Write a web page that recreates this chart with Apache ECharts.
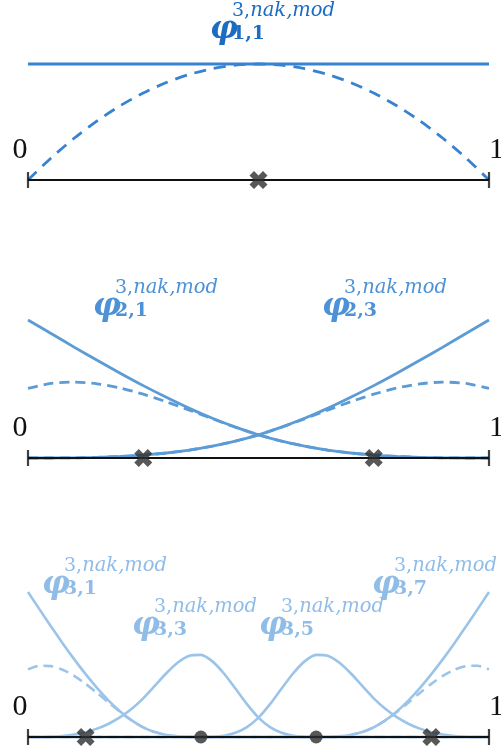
<!DOCTYPE html>
<html>
<head>
<meta charset="utf-8">
<script src="https://cdn.jsdelivr.net/npm/echarts@6/dist/echarts.min.js"></script>
<style>
  html, body { margin: 0; padding: 0; background: #ffffff; }
  #chart { width: 501px; height: 752px; }
</style>
</head>
<body>
<div id="chart"></div>
<script>
// Sample positions on [0, 1]
const xsCoarse = [0, 0.05, 0.1, 0.15, 0.2, 0.25, 0.3, 0.35, 0.4, 0.45, 0.5,
  0.55, 0.6, 0.65, 0.7, 0.75, 0.8, 0.85, 0.9, 0.95, 1];
const xsFine = [0, 0.025, 0.05, 0.075, 0.1, 0.125, 0.15, 0.175, 0.2, 0.225, 0.25,
  0.275, 0.3, 0.325, 0.35, 0.375, 0.4, 0.425, 0.45, 0.475, 0.5,
  0.525, 0.55, 0.575, 0.6, 0.625, 0.65, 0.675, 0.7, 0.725, 0.75,
  0.775, 0.8, 0.825, 0.85, 0.875, 0.9, 0.925, 0.95, 0.975, 1];

// Level 1
const phi11Mod = [1, 1, 1, 1, 1, 1, 1, 1, 1, 1, 1, 1, 1, 1, 1, 1, 1, 1, 1, 1, 1];
const phi11Nak = [0, 0.19, 0.36, 0.51, 0.64, 0.75, 0.84, 0.91, 0.96, 0.99, 1,
  0.99, 0.96, 0.91, 0.84, 0.75, 0.64, 0.51, 0.36, 0.19, 0];

// Level 2
const phi21Nak = [0.6, 0.6428, 0.6544, 0.6396, 0.6032, 0.55, 0.4848, 0.4124, 0.3376, 0.2652, 0.2,
  0.1458, 0.1024, 0.0686, 0.0432, 0.025, 0.0128, 0.0054, 0.0016, 0.0002, 0];
const phi21Mod = [1.19, 1.073, 0.956, 0.842, 0.731, 0.624, 0.523, 0.428, 0.342, 0.266, 0.2,
  0.1458, 0.1024, 0.0686, 0.0432, 0.025, 0.0128, 0.0054, 0.0016, 0.0002, 0];
const phi23Nak = [0, 0.0002, 0.0016, 0.0054, 0.0128, 0.025, 0.0432, 0.0686, 0.1024, 0.1458, 0.2,
  0.2652, 0.3376, 0.4124, 0.4848, 0.55, 0.6032, 0.6396, 0.6544, 0.6428, 0.6];
const phi23Mod = [0, 0.0002, 0.0016, 0.0054, 0.0128, 0.025, 0.0432, 0.0686, 0.1024, 0.1458, 0.2,
  0.266, 0.342, 0.428, 0.523, 0.624, 0.731, 0.842, 0.956, 1.073, 1.19];

// Level 3
const phi31Nak = [0.5833, 0.6143, 0.6113, 0.5803, 0.5273, 0.4583, 0.3793, 0.2963, 0.2153, 0.1423, 0.0833,
  0.0427, 0.018, 0.0053, 0.0007, 0, 0, 0, 0, 0, 0,
  0, 0, 0, 0, 0, 0, 0, 0, 0, 0,
  0, 0, 0, 0, 0, 0, 0, 0, 0, 0];
const phi31Mod = [1.25, 1.1003, 0.9526, 0.809, 0.6713, 0.5416, 0.422, 0.3143, 0.2206, 0.143, 0.0833,
  0.0427, 0.018, 0.0053, 0.0007, 0, 0, 0, 0, 0, 0,
  0, 0, 0, 0, 0, 0, 0, 0, 0, 0,
  0, 0, 0, 0, 0, 0, 0, 0, 0, 0];
const phi33 = [0, 0.0003, 0.0027, 0.009, 0.0213, 0.0417, 0.072, 0.1143, 0.1707, 0.243, 0.3333,
  0.4403, 0.5493, 0.6423, 0.7013, 0.7083, 0.652, 0.5477, 0.4173, 0.283, 0.1667,
  0.0853, 0.036, 0.0107, 0.0013, 0, 0, 0, 0, 0, 0,
  0, 0, 0, 0, 0, 0, 0, 0, 0, 0];
const phi35 = [0, 0, 0, 0, 0, 0, 0, 0, 0, 0, 0,
  0, 0, 0, 0, 0, 0.0013, 0.0107, 0.036, 0.0853, 0.1667,
  0.283, 0.4173, 0.5477, 0.652, 0.7083, 0.7013, 0.6423, 0.5493, 0.4403, 0.3333,
  0.243, 0.1707, 0.1143, 0.072, 0.0417, 0.0213, 0.009, 0.0027, 0.0003, 0];
const phi37Nak = [0, 0, 0, 0, 0, 0, 0, 0, 0, 0, 0,
  0, 0, 0, 0, 0, 0, 0, 0, 0, 0,
  0, 0, 0, 0, 0, 0.0007, 0.0053, 0.018, 0.0427, 0.0833,
  0.1423, 0.2153, 0.2963, 0.3793, 0.4583, 0.5273, 0.5803, 0.6113, 0.6143, 0.5833];
const phi37Mod = [0, 0, 0, 0, 0, 0, 0, 0, 0, 0, 0,
  0, 0, 0, 0, 0, 0, 0, 0, 0, 0,
  0, 0, 0, 0, 0, 0.0007, 0.0053, 0.018, 0.0427, 0.0833,
  0.143, 0.2206, 0.3143, 0.422, 0.5416, 0.6713, 0.809, 0.9526, 1.1003, 1.25];

// Grid points on each level: crosses = not-a-knot points, dots = knots
const crosses1 = [0.5];
const crosses2 = [0.25, 0.75];
const crosses3 = [0.125, 0.875];
const dots3 = [0.375, 0.625];

// Text
const tickLabels = ['0', '1'];
const supDegree = '3,';
const supKind = 'nak,mod';
const labels1 = ['1,1'];
const labels2 = ['2,1', '2,3'];
const labels3 = ['3,1', '3,3', '3,5', '3,7'];

const colors = ['#3783cf', '#5b9bd6', '#9cc4e9'];
const labelColors = ['#1c6cc2', '#4d92d6', '#90bde8'];
const dashes = [[12, 8], [10, 6], [10, 6]];

const axisY = [180, 458, 737];
const unitPx = 116;
const yMax = 1.5;

const zip = (xs, ys) => xs.map((x, i) => [x, ys[i]]);

const grids = axisY.map(y => ({
  left: 28, right: 12, top: y - unitPx * yMax, height: unitPx * yMax
}));
const xAxes = axisY.map((_, i) => ({ type: 'value', min: 0, max: 1, show: false, gridIndex: i }));
const yAxes = axisY.map((_, i) => ({ type: 'value', min: 0, max: yMax, show: false, gridIndex: i }));

const crossPath = 'path://M2.5,0 L5,2.5 L7.5,0 L10,2.5 L7.5,5 L10,7.5 L7.5,10 L5,7.5 L2.5,10 L0,7.5 L2.5,5 L0,2.5 Z';

function curve(g, xs, ys, color, width, dashed, z) {
  return {
    type: 'line', xAxisIndex: g, yAxisIndex: g, data: zip(xs, ys),
    showSymbol: false, smooth: 0.25, clip: false, silent: true, z: z,
    lineStyle: { color: color, width: width, type: dashed ? dashes[g] : 'solid', cap: 'butt' }
  };
}
function baseLine(g) {
  return [
    { type: 'line', xAxisIndex: g, yAxisIndex: g, data: [[0, 0], [1, 0]], showSymbol: false,
      clip: false, silent: true, z: 5, lineStyle: { color: '#111111', width: 1.8 } },
    { type: 'scatter', xAxisIndex: g, yAxisIndex: g, data: [[0, 0], [1, 0]], symbol: 'rect',
      symbolSize: [2.2, 16], clip: false, silent: true, z: 6, itemStyle: { color: '#111111' } }
  ];
}
function markers(g, pts, kind) {
  return {
    type: 'scatter', xAxisIndex: g, yAxisIndex: g, data: pts.map(p => [p, 0]),
    symbol: kind === 'cross' ? crossPath : 'circle', symbolSize: kind === 'cross' ? 18 : 13,
    clip: false, silent: true, z: 10, itemStyle: { color: '#2e2e2e' }
  };
}

const series = [
  curve(0, xsCoarse, phi11Nak, colors[0], 2.8, true, 2),
  curve(0, xsCoarse, phi11Mod, colors[0], 2.8, false, 3),
  ...baseLine(0),
  markers(0, crosses1, 'cross'),

  curve(1, xsCoarse, phi21Nak, colors[1], 2.8, true, 2),
  curve(1, xsCoarse, phi23Nak, colors[1], 2.8, true, 2),
  curve(1, xsCoarse, phi21Mod, colors[1], 2.8, false, 3),
  curve(1, xsCoarse, phi23Mod, colors[1], 2.8, false, 3),
  ...baseLine(1),
  markers(1, crosses2, 'cross'),

  curve(2, xsFine, phi31Nak, colors[2], 2.6, true, 2),
  curve(2, xsFine, phi37Nak, colors[2], 2.6, true, 2),
  curve(2, xsFine, phi31Mod, colors[2], 2.6, false, 3),
  curve(2, xsFine, phi33, colors[2], 2.6, false, 3),
  curve(2, xsFine, phi35, colors[2], 2.6, false, 3),
  curve(2, xsFine, phi37Mod, colors[2], 2.6, false, 3),
  ...baseLine(2),
  markers(2, crosses3, 'cross'),
  markers(2, dots3, 'circle')
];

// Function labels: φ with superscript (upright degree, italic kind) and bold subscript
function phiLabel(x, y, sub, color) {
  return [
    { type: 'text', x: x, y: y, z: 20, style: { text: 'φ', fill: color,
      font: 'italic bold 31px "DejaVu Serif"', verticalAlign: 'middle', align: 'left' } },
    { type: 'text', x: x + 22, y: y - 19, z: 20, style: {
      text: '{u|' + supDegree + '}{i|' + supKind + '}', fill: color,
      verticalAlign: 'middle', align: 'left',
      rich: {
        u: { font: '19px "DejaVu Serif"', fill: color },
        i: { font: 'italic 19.5px "DejaVu Serif"', fill: color }
      } } },
    { type: 'text', x: x + 22, y: y + 4, z: 20, style: { text: sub, fill: color,
      font: 'bold 19px "DejaVu Serif"', verticalAlign: 'middle', align: 'left' } }
  ];
}
function tickText(y) {
  return [
    { type: 'text', x: 20, y: y, z: 20, style: { text: tickLabels[0], fill: '#111111',
      font: '30px "Liberation Serif"', verticalAlign: 'middle', align: 'center' } },
    { type: 'text', x: 489, y: y, z: 20, style: { text: tickLabels[1], fill: '#111111',
      font: '30px "Liberation Serif"', verticalAlign: 'middle', align: 'left' } }
  ];
}

const graphic = [
  ...phiLabel(210, 30, labels1[0], labelColors[0]),
  ...phiLabel(93, 307, labels2[0], labelColors[1]),
  ...phiLabel(322, 307, labels2[1], labelColors[1]),
  ...phiLabel(42, 585, labels3[0], labelColors[2]),
  ...phiLabel(132, 626, labels3[1], labelColors[2]),
  ...phiLabel(259, 626, labels3[2], labelColors[2]),
  ...phiLabel(372, 585, labels3[3], labelColors[2]),
  ...tickText(axisY[0] - 30),
  ...tickText(axisY[1] - 30),
  ...tickText(axisY[2] - 30)
];

const chart = echarts.init(document.getElementById('chart'), null, { renderer: 'canvas' });
chart.setOption({
  animation: false,
  backgroundColor: '#ffffff',
  grid: grids,
  xAxis: xAxes,
  yAxis: yAxes,
  series: series,
  graphic: graphic
});
</script>
</body>
</html>
